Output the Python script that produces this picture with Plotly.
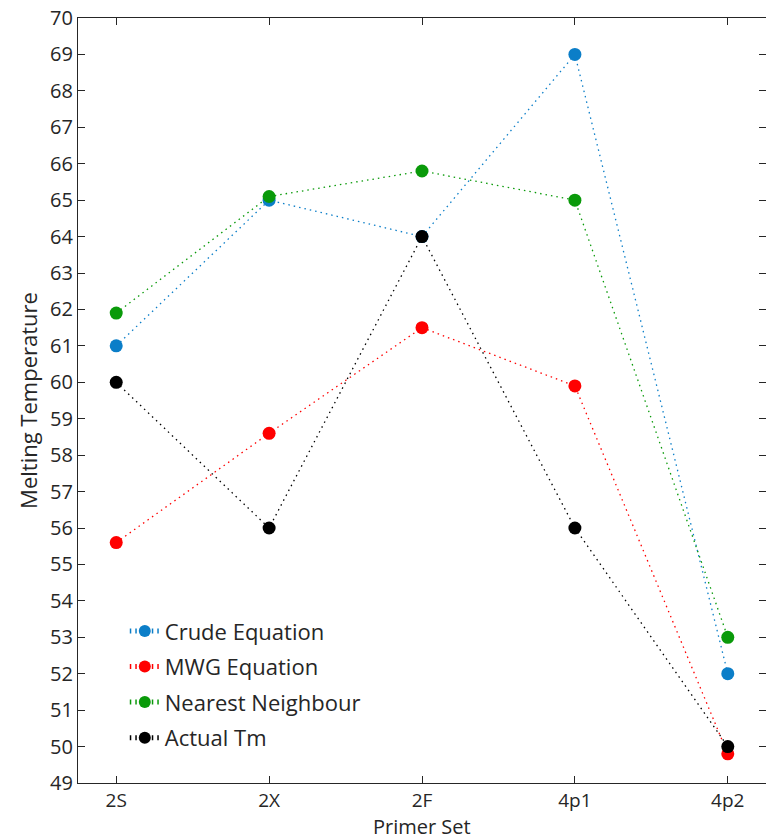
import plotly.graph_objects as go

categories = ["2S", "2X", "2F", "4p1", "4p2"]
crude = [61, 65, 64, 69, 52]
mwg = [55.6, 58.6, 61.5, 59.9, 49.8]
nearest = [61.9, 65.1, 65.8, 65, 53]
actual = [60, 56, 64, 56, 50]
y_ticks = list(range(49, 71))

series = [
    ("Crude Equation", crude, "#0b7ec8"),
    ("MWG Equation", mwg, "#ff0000"),
    ("Nearest Neighbour", nearest, "#0a9a0a"),
    ("Actual Tm", actual, "#000000"),
]

xpos = list(range(1, len(categories) + 1))
fig = go.Figure()
for i, (name, vals, col) in enumerate(series):
    fig.add_trace(go.Scatter(
        x=xpos, y=vals, name=name, mode="lines+markers", legendgroup=f"g{i}",
        line=dict(color=col, width=1.3, dash="1.5px,4px"),
        marker=dict(color=col, size=13),
    ))

font = "Open Sans, Noto Sans, sans-serif"
fig.update_layout(
    width=766, height=840,
    margin=dict(l=78, r=0, t=18, b=57),
    paper_bgcolor="white", plot_bgcolor="white",
    font=dict(family=font, size=20, color="#262626"),
    showlegend=True,
    legend=dict(x=0.068, y=0.226, xanchor="left", yanchor="top",
                bgcolor="rgba(0,0,0,0)", font=dict(size=22, color="#262626"),
                tracegroupgap=4, itemsizing="constant"),
    xaxis=dict(
        range=[0.75, 5.25], tickvals=xpos, ticktext=categories,
        tickfont=dict(size=19),
        showgrid=False, zeroline=False, showline=True, linecolor="#262626", linewidth=1.3,
        mirror="allticks", ticks="inside", ticklen=7, tickcolor="#262626",
    ),
    yaxis=dict(
        range=[49, 70], tickvals=y_ticks, ticktext=[str(v) for v in y_ticks],
        showgrid=False, zeroline=False, showline=True, linecolor="#262626", linewidth=1.3,
        mirror="allticks", ticks="inside", ticklen=7, tickcolor="#262626",
        title=dict(text="Melting Temperature", standoff=6, font=dict(size=22)),
    ),
    annotations=[dict(text="Primer Set", xref="paper", yref="paper", x=0.5, y=-0.0572,
                      xanchor="center", yanchor="middle", showarrow=False,
                      font=dict(size=20, color="#262626"))],
)

fig.write_html("out.html")
